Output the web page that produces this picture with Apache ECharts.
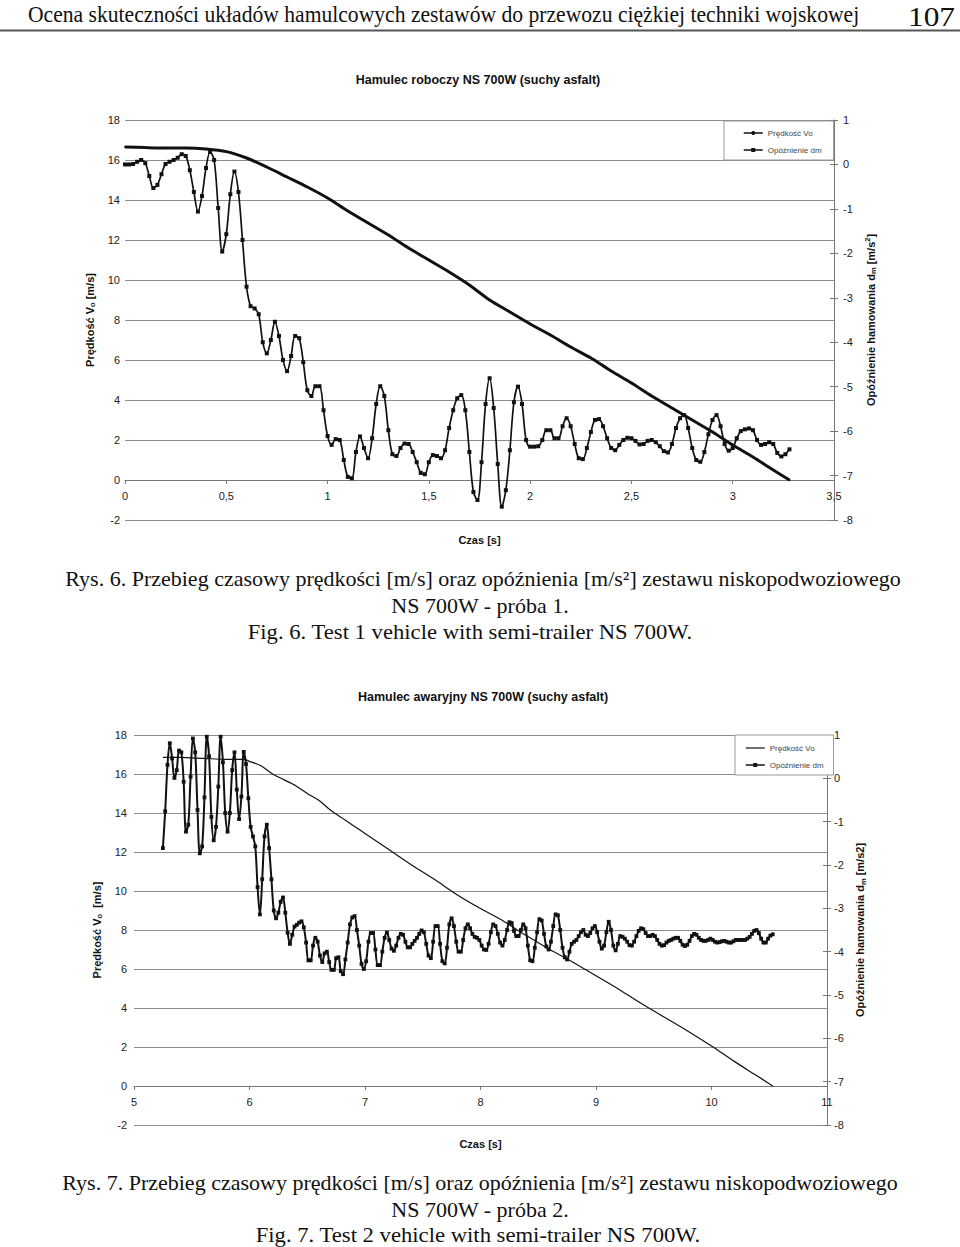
<!DOCTYPE html>
<html>
<head>
<meta charset="utf-8">
<script src="https://cdn.jsdelivr.net/npm/echarts@6/dist/echarts.min.js"></script>
<style>
html,body{margin:0;padding:0;background:#fff;}
#c{width:960px;height:1247px;}
</style>
</head>
<body>
<div id="c"></div>
<script>
// ---------------- DATA ----------------
const seriesNames = ['Prędkość Vo', 'Opóźnienie dm'];

// Chart 1 (Hamulec roboczy) — deceleration samples every 0.02 s from t = 0 s
const T1_START = 0, T1_STEP = 0.02;
const decel1 = [
 0.00, 0.00, 0.01, 0.06, 0.10, 0.03, -0.26, -0.53, -0.46, -0.22,
 0.01, 0.06, 0.10, 0.15, 0.23, 0.19, -0.13, -0.62, -1.06, -0.71,
 -0.08, 0.28, 0.10, -0.98, -1.96, -1.57, -0.67, -0.16, -0.62, -1.70,
 -2.75, -3.19, -3.24, -3.37, -4.00, -4.25, -3.95, -3.54, -3.86, -4.40,
 -4.65, -4.31, -3.86, -3.91, -4.45, -5.08, -5.21, -4.99, -4.99, -5.53,
 -6.11, -6.31, -6.18, -6.20, -6.65, -7.03, -7.06, -6.47, -6.12, -6.38,
 -6.61, -6.16, -5.39, -4.99, -5.21, -5.98, -6.52, -6.56, -6.38, -6.28,
 -6.29, -6.47, -6.70, -6.94, -6.97, -6.70, -6.54, -6.56, -6.61, -6.43,
 -5.93, -5.53, -5.26, -5.19, -5.53, -6.47, -7.37, -7.55, -6.70, -5.39,
 -4.81, -5.48, -6.74, -7.70, -7.33, -6.43, -5.35, -5.00, -5.39, -6.20,
 -6.35, -6.35, -6.34, -6.20, -5.98, -5.98, -6.16, -6.16, -5.89, -5.71,
 -5.89, -6.29, -6.61, -6.63, -6.38, -6.02, -5.75, -5.73, -5.89, -6.16,
 -6.38, -6.43, -6.31, -6.20, -6.15, -6.16, -6.22, -6.30, -6.29, -6.22,
 -6.20, -6.25, -6.34, -6.45, -6.48, -6.29, -5.93, -5.71, -5.64, -5.93,
 -6.38, -6.65, -6.69, -6.47, -6.07, -5.75, -5.64, -5.89, -6.29, -6.44,
 -6.38, -6.16, -6.00, -5.96, -5.94, -5.98, -6.20, -6.31, -6.29, -6.25,
 -6.29, -6.49, -6.57, -6.52, -6.41
];
const speed1T = [0,0.1,0.2,0.3,0.4,0.5,0.6,0.7,0.8,0.9,1.0,1.1,1.2,1.3,1.4,1.5,1.6,1.7,1.8,1.9,2.0,2.1,2.2,2.3,2.4,2.5,2.6,2.7,2.8,2.9,3.0,3.1,3.2,3.28];
const speed1V = [16.65,16.62,16.60,16.60,16.55,16.42,16.10,15.65,15.15,14.65,14.10,13.45,12.85,12.25,11.60,11.00,10.40,9.75,9.00,8.40,7.80,7.25,6.65,6.10,5.45,4.85,4.20,3.60,3.00,2.40,1.75,1.15,0.50,0.00];

// Chart 2 (Hamulec awaryjny) — deceleration samples every 0.02 s from t = 5.25 s
const T2_START = 5.25, T2_STEP = 0.02;
const decel2 = [
 -1.61, -0.76, 0.31, 0.81, 0.46, 0.01, 0.19, 0.64, 0.60, -0.08,
 -1.23, -1.07, 0.04, 0.92, 0.60, -0.73, -1.73, -1.57, -0.44, 0.96,
 0.51, -0.89, -1.43, -1.12, -0.19, 0.96, 0.37, -0.80, -1.23, -0.80,
 0.19, 0.60, -0.26, -0.94, -0.42, 0.61, 0.33, -0.46, -1.12, -1.34,
 -1.57, -2.51, -3.14, -2.33, -1.34, -1.07, -1.61, -2.33, -3.05, -3.23,
 -3.10, -2.85, -2.75, -3.10, -3.56, -3.82, -3.61, -3.42, -3.38, -3.33,
 -3.30, -3.44, -3.79, -4.20, -4.20, -3.86, -3.68, -3.77, -4.09, -4.24,
 -4.04, -4.00, -4.24, -4.42, -4.42, -4.15, -4.13, -4.45, -4.52, -4.18,
 -3.79, -3.37, -3.21, -3.18, -3.50, -3.86, -4.28, -4.40, -4.22, -3.77,
 -3.57, -3.57, -3.95, -4.31, -4.31, -4.00, -3.68, -3.56, -3.73, -3.93,
 -3.98, -3.86, -3.68, -3.59, -3.61, -3.77, -3.90, -3.90, -3.82, -3.75,
 -3.68, -3.59, -3.51, -3.55, -3.82, -4.09, -4.15, -3.77, -3.41, -3.41,
 -3.82, -4.22, -4.27, -3.91, -3.37, -3.23, -3.41, -3.77, -4.00, -4.00,
 -3.73, -3.46, -3.37, -3.46, -3.59, -3.66, -3.68, -3.73, -3.86, -3.95,
 -3.96, -3.82, -3.55, -3.37, -3.41, -3.59, -3.79, -3.86, -3.73, -3.50,
 -3.32, -3.34, -3.52, -3.64, -3.64, -3.50, -3.37, -3.46, -3.86, -4.20,
 -4.22, -3.91, -3.55, -3.25, -3.28, -3.59, -3.88, -3.95, -3.77, -3.41,
 -3.14, -3.16, -3.50, -3.91, -4.13, -4.18, -4.00, -3.82, -3.77, -3.73,
 -3.64, -3.55, -3.50, -3.61, -3.64, -3.57, -3.46, -3.41, -3.55, -3.77,
 -3.93, -3.86, -3.55, -3.31, -3.50, -3.86, -3.97, -3.82, -3.64, -3.66,
 -3.70, -3.77, -3.85, -3.86, -3.77, -3.64, -3.52, -3.46, -3.48, -3.57,
 -3.64, -3.64, -3.61, -3.64, -3.73, -3.82, -3.86, -3.85, -3.79, -3.75,
 -3.73, -3.70, -3.68, -3.68, -3.75, -3.84, -3.87, -3.84, -3.75, -3.64,
 -3.59, -3.61, -3.68, -3.73, -3.75, -3.75, -3.73, -3.70, -3.73, -3.77,
 -3.79, -3.78, -3.76, -3.75, -3.77, -3.79, -3.79, -3.76, -3.73, -3.73,
 -3.73, -3.73, -3.73, -3.70, -3.66, -3.59, -3.52, -3.50, -3.57, -3.70,
 -3.79, -3.79, -3.70, -3.63, -3.60
];
const speed2T = [5.25,5.4,5.6,5.8,5.95,6.0,6.1,6.2,6.3,6.4,6.5,6.6,6.7,6.8,6.9,7.0,7.2,7.4,7.6,7.8,8.0,8.2,8.4,8.6,8.8,9.0,9.2,9.4,9.6,9.8,10.0,10.2,10.4,10.53];
const speed2V = [16.85,16.85,16.8,16.75,16.75,16.65,16.42,16.0,15.7,15.4,15.0,14.65,14.15,13.75,13.35,12.95,12.15,11.35,10.6,9.8,9.1,8.45,7.7,7.0,6.35,5.65,4.95,4.2,3.5,2.8,2.05,1.25,0.5,0];

// Axis ranges
const vAxis = {min: -2, max: 18, interval: 2};
const dAxis = {min: -8, max: 1, interval: 1};
const tAxis1 = {min: 0, max: 3.5, interval: 0.5};
const tAxis2 = {min: 5, max: 11, interval: 1};

// Texts
const headerText = 'Ocena skuteczności układów hamulcowych zestawów do przewozu ciężkiej techniki wojskowej';
const pageNo = '107';
const title1 = 'Hamulec roboczy NS 700W (suchy asfalt)';
const title2 = 'Hamulec awaryjny NS 700W (suchy asfalt)';
const caption1 = ['Rys. 6. Przebieg czasowy prędkości [m/s] oraz opóźnienia [m/s²] zestawu niskopodwoziowego', 'NS 700W - próba 1.', 'Fig. 6. Test 1 vehicle with semi-trailer NS 700W.'];
const caption2 = ['Rys. 7. Przebieg czasowy prędkości [m/s] oraz opóźnienia [m/s²] zestawu niskopodwoziowego', 'NS 700W - próba 2.', 'Fig. 7. Test 2 vehicle with semi-trailer NS 700W.'];

// ---------------- BUILD ----------------
const SANS = '"Liberation Sans", Arial, sans-serif';
const NARROW = '"Liberation Sans Narrow", "Arial Narrow", "Liberation Sans", Arial, sans-serif';
const SERIF = '"Liberation Serif", "Times New Roman", serif';
const INK = '#111';
const GRID = '#8c8c8c';

function pairs(ts, vs) { return vs.map((v, i) => [ts[i], v]); }
function sampled(t0, dt, vs) { return vs.map((v, i) => [+(t0 + i * dt).toFixed(3), v]); }

function txt(x, y, text, size, family, opts) {
  opts = opts || {};
  return {
    type: 'text', x: x, y: y, silent: true,
    scaleX: opts.scaleX || 1,
    style: {
      text: text, fill: opts.fill || INK,
      font: (opts.weight || 'normal') + ' ' + size + 'px ' + family,
      fontSize: size, fontFamily: family, fontWeight: opts.weight || 'normal',
      textAlign: opts.align || 'center', align: opts.align || 'center',
      textVerticalAlign: 'middle', verticalAlign: 'middle'
    }
  };
}

const nameRich = (fam) => ({
  sub: {fontSize: 7.5, fontWeight: 'bold', fontFamily: fam, color: INK, verticalAlign: 'bottom', padding: [6, 0, 0, 0]},
  sup: {fontSize: 7.5, fontWeight: 'bold', fontFamily: fam, color: INK, verticalAlign: 'top', padding: [0, 0, 5, 0]}
});

function leftAxis(gi, fam, gap, nameText, margin) {
  return {
    type: 'value', gridIndex: gi, position: 'left', min: vAxis.min, max: vAxis.max, interval: vAxis.interval,
    axisLine: {show: false}, axisTick: {show: false},
    splitLine: {show: true, lineStyle: {color: GRID, width: 1}},
    axisLabel: {fontSize: 11, color: '#222', fontFamily: fam, margin: margin},
    name: nameText, nameLocation: 'middle', nameGap: gap, nameRotate: 90,
    nameTextStyle: {fontSize: 11, fontWeight: 'bold', color: INK, fontFamily: fam, rich: nameRich(fam)}
  };
}
function rightAxis(gi, fam, gap, nameText, margin) {
  return {
    type: 'value', gridIndex: gi, position: 'right', min: dAxis.min, max: dAxis.max, interval: dAxis.interval,
    axisLine: {show: true, lineStyle: {color: '#777', width: 1}},
    axisTick: {show: true, inside: false, length: 4, lineStyle: {color: '#777'}},
    splitLine: {show: false},
    axisLabel: {fontSize: 11, color: '#222', fontFamily: fam, margin: margin},
    name: nameText, nameLocation: 'middle', nameGap: gap, nameRotate: 90,
    nameTextStyle: {fontSize: 11, fontWeight: 'bold', color: INK, fontFamily: fam, rich: nameRich(fam)}
  };
}
function rightInner(gi) {
  return {
    type: 'value', gridIndex: gi, position: 'right', min: dAxis.min, max: dAxis.max, interval: dAxis.interval,
    axisLine: {show: false}, axisTick: {show: true, inside: true, length: 4, lineStyle: {color: '#777'}},
    splitLine: {show: false}, axisLabel: {show: false}
  };
}
// time axis drawn on the speed = 0 line (offset up from the grid bottom)
function timeAxis(gi, rng, fam, offset, gap, fmt) {
  return {
    type: 'value', gridIndex: gi, position: 'bottom', offset: offset,
    min: rng.min, max: rng.max, interval: rng.interval,
    axisLine: {show: true, onZero: false, lineStyle: {color: '#777', width: 1}},
    axisTick: {show: true, length: 4, lineStyle: {color: '#777'}},
    splitLine: {show: false},
    axisLabel: {fontSize: 11, color: '#222', fontFamily: fam, margin: 10, formatter: fmt},
    name: 'Czas [s]', nameLocation: 'middle', nameGap: gap,
    nameTextStyle: {fontSize: 11, fontWeight: 'bold', color: INK, fontFamily: fam}
  };
}

function legendBox(left, top, fam, pad, speedStyle, decelStyle) {
  return {
    show: true, orient: 'vertical', left: left, top: top, selectedMode: false,
    backgroundColor: '#fff', borderColor: '#999', borderWidth: 1, borderRadius: 0,
    padding: pad, itemGap: 9, itemWidth: 19, itemHeight: 5,
    textStyle: {fontSize: 8, color: '#444', fontFamily: fam},
    data: [
      Object.assign({name: seriesNames[0]}, speedStyle),
      Object.assign({name: seriesNames[1]}, decelStyle)
    ]
  };
}

const option = {
  animation: false,
  backgroundColor: '#fff',
  grid: [
    {left: 125, top: 120, width: 709, height: 400, containLabel: false},
    {left: 134, top: 735, width: 693, height: 390, containLabel: false}
  ],
  xAxis: [
    timeAxis(0, tAxis1, SANS, -40, 54, v => String(v).replace('.', ',')),
    timeAxis(1, tAxis2, NARROW, -39, 52, v => String(v))
  ],
  yAxis: [
    leftAxis(0, SANS, 27, 'Prędkość V{sub|o} [m/s]', 5),
    rightAxis(0, SANS, 23, 'Opóźnienie hamowania d{sub|m} [m/s{sup|2}]', 9),
    rightInner(0),
    leftAxis(1, NARROW, 25, 'Prędkość V{sub|o}  [m/s]', 7),
    rightAxis(1, NARROW, 19, 'Opóźnienie hamowania d{sub|m} [m/s2]', 7),
    rightInner(1)
  ],
  legend: [
    legendBox(724, 121, SANS, [8, 12, 6, 19],
      {itemStyle: {color: INK}, lineStyle: {color: INK, width: 1.5}},
      {itemStyle: {color: INK}, lineStyle: {color: INK, width: 1.5}}),
    legendBox(735, 735, NARROW, [9, 10, 6, 10],
      {itemStyle: {color: INK, opacity: 0}, lineStyle: {color: INK, width: 1.2}},
      {itemStyle: {color: INK}, lineStyle: {color: INK, width: 1.5}})
  ],
  series: [
    {
      name: seriesNames[0], type: 'line', xAxisIndex: 0, yAxisIndex: 0,
      data: pairs(speed1T, speed1V), smooth: 0.3,
      symbol: 'circle', symbolSize: 2, showSymbol: true,
      lineStyle: {color: INK, width: 3}, itemStyle: {color: INK}, z: 3
    },
    {
      name: seriesNames[1], type: 'line', xAxisIndex: 0, yAxisIndex: 1,
      data: sampled(T1_START, T1_STEP, decel1), smooth: 0.35,
      symbol: 'rect', symbolSize: 4, showSymbol: true,
      lineStyle: {color: INK, width: 1.7}, itemStyle: {color: INK}, z: 2
    },
    {
      name: seriesNames[0], type: 'line', xAxisIndex: 1, yAxisIndex: 3,
      data: pairs(speed2T, speed2V), smooth: 0.3,
      symbol: 'none',
      lineStyle: {color: INK, width: 1.2}, itemStyle: {color: INK}, z: 3
    },
    {
      name: seriesNames[1], type: 'line', xAxisIndex: 1, yAxisIndex: 4,
      data: sampled(T2_START, T2_STEP, decel2), smooth: 0.35,
      symbol: 'rect', symbolSize: 3.8, showSymbol: true,
      lineStyle: {color: INK, width: 2}, itemStyle: {color: INK}, z: 2
    }
  ],
  graphic: [
    txt(28, 14, headerText, 23, SERIF, {align: 'left', scaleX: 0.94}),
    txt(955, 17, pageNo, 28, SERIF, {align: 'right', scaleX: 1.12}),
    {type: 'line', silent: true, shape: {x1: 0, y1: 30.5, x2: 960, y2: 30.5}, style: {stroke: '#555', lineWidth: 2}},
    txt(478, 80, title1, 12.5, SANS, {weight: 'bold'}),
    txt(483, 697, title2, 12.5, NARROW, {weight: 'bold'}),
    txt(483, 578, caption1[0], 22, SERIF),
    txt(480, 605, caption1[1], 22, SERIF),
    txt(470, 632, caption1[2], 22, SERIF, {scaleX: 1.03}),
    txt(480, 1182, caption2[0], 22, SERIF),
    txt(480, 1209, caption2[1], 22, SERIF),
    txt(478, 1235, caption2[2], 22, SERIF, {scaleX: 1.03})
  ]
};

const chart = echarts.init(document.getElementById('c'), null, {renderer: 'svg', width: 960, height: 1247});
chart.setOption(option);
</script>
</body>
</html>
